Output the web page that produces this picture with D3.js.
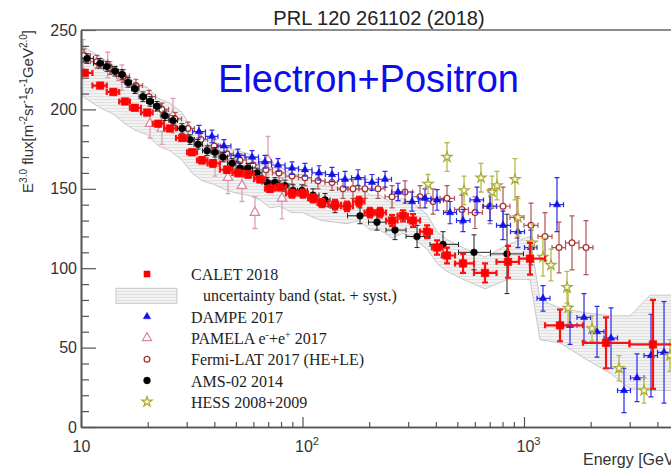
<!DOCTYPE html>
<html><head><meta charset="utf-8">
<script src="https://cdn.jsdelivr.net/npm/d3@7"></script>
<style>
html,body{margin:0;padding:0;background:#fff;overflow:hidden}
svg{display:block}
</style></head><body>
<svg id="chart" width="671" height="469"></svg>
<script>
// ---- CALET 2018 (E^3 x flux) ----
const caletE = [10.4, 12.2, 14.0, 15.8, 17.5, 19.9, 22.3, 25.2, 28.6, 31.7, 35.2, 39.4, 45.6, 51.1, 56.8, 64.3, 71.3, 79.1, 89.7, 100.5, 111.5, 122.5, 140.2, 158.8, 179.9, 201.7, 223.8, 253.6, 284.3, 315.4, 364.9, 404.9, 449.2, 530.6, 666.7, 846.9, 1064.5, 1454, 2346, 3823];
const caletFlux = [223, 215, 211, 205, 201, 198, 191, 188, 182, 173, 168, 166, 162, 160, 159, 156, 150, 151, 147, 147, 144, 141, 140, 139, 142, 135, 135, 130, 133, 130, 123, 113, 108, 103, 97, 104, 106, 64, 53, 52];
const caletErr = [1.5, 1.5, 1.5, 1.5, 1.5, 1.5, 1.5, 1.5, 1.5, 1.5, 2, 2, 2, 2, 2, 2, 2, 2, 2.5, 2.5, 2.5, 2.5, 3, 3, 3, 3, 3, 3.5, 3.5, 4, 4, 4.5, 5, 6, 6, 10, 10, 10, 16, 28];

// ---- CALET uncertainty band (stat. + syst.) ----
const bandE = [10.2, 12.2, 14.0, 15.8, 17.5, 19.9, 22.3, 25.2, 28.6, 31.7, 35.2, 39.4, 45.6, 51.1, 56.8, 64.3, 71.3, 79.1, 89.7, 100.5, 111.5, 122.5, 140.2, 158.8, 179.9, 201.7, 223.8, 253.6, 284.3, 315.4, 364.9, 404.9, 449.2, 530.6, 666.7, 846.9, 1064.5, 1181, 1454, 1886, 2445, 3010, 3706, 5063];
const bandLo = [208, 201, 197, 191, 187, 184, 177, 174, 168, 160, 155, 153, 149, 147, 146, 143, 138, 139, 135, 135, 132, 130, 129, 128, 130, 124, 124, 119, 122, 119, 112, 103, 98, 93, 87, 93, 93, 55, 53, 43, 34, 24, 23, 23];
const bandHi = [240, 233, 228, 222, 217, 214, 207, 204, 198, 188, 182, 180, 176, 174, 172, 169, 163, 164, 159, 159, 155, 152, 151, 150, 153, 146, 146, 141, 144, 141, 134, 123, 118, 113, 107, 115, 120, 80, 75, 72, 70, 70, 83, 83];

// ---- DAMPE 2017 ----
const dampeE = [34.1, 39.0, 44.2, 51.1, 59.2, 67.7, 77.5, 89.7, 102.6, 118.7, 135.9, 155.6, 178.1, 205.9, 235.8, 269.9, 312.2, 357.4, 404.9, 463.4, 530.6, 613.5, 702.3, 804.0, 939.6, 1075.5, 1218, 1409, 1613, 1866, 2136, 2471, 2828, 3237, 3744, 4287];
const dampeFlux = [186, 183, 177, 171, 170, 167, 165, 163, 162, 160, 159, 156, 157, 154, 156, 148, 142, 144, 143, 135, 130, 143, 139, 127, 123, 113, 81, 140, 64, 69, 60, 56, 23, 31, 45, 47];
const dampeErr = [4, 4, 4, 4, 4, 4, 4, 4, 4, 4.5, 4.5, 5, 5, 5, 5, 5.5, 6, 6, 6.5, 7, 7, 8, 9, 9, 10, 11, 8, 17, 12, 15, 16, 19, 14, 15, 26, 32];

// ---- PAMELA e- + e+ 2017 ----
const pamelaE = [10.2, 13.2, 15.3, 20.5, 23.2, 26.0, 40.3, 46.1, 53.3, 61.0, 69.9, 80.8];
const pamelaFlux = [235, 228, 220, 191, 188, 196, 166, 157, 152, 135, 168, 144];
const pamelaErr = [9, 8, 8, 9, 10, 11, 8, 10, 10, 10, 15, 13];

// ---- Fermi-LAT 2017 (HE+LE) ----
const fermiE = [10.3, 11.8, 13.5, 15.5, 17.7, 20.3, 23.2, 26.6, 30.4, 34.8, 39.9, 45.6, 52.2, 59.8, 68.4, 78.3, 89.7, 102.6, 117.5, 135.9, 152.3, 169.0, 191.5, 219.2, 253.6, 290.3, 339.3, 388.3, 449.2, 524.9, 600.9, 702.3, 804.0, 929.9, 1075.5, 1244, 1439, 1647, 1905];
const fermiFlux = [234, 230, 226, 221, 215, 208, 200, 194, 188, 181, 177, 172, 168, 165, 162, 160, 158, 157, 155, 154, 150, 150, 150, 150, 145, 148, 145, 142, 144, 137, 135, 139, 139, 132, 127, 120, 113, 116, 113];
const fermiErr = [4, 4, 4, 4, 4, 4, 4, 4, 4, 4, 4, 4, 4, 4, 5, 5, 5, 5, 5, 5, 6, 6, 6, 6, 7, 7, 7, 8, 8, 9, 10, 11, 12, 13, 14, 15, 16, 17, 17];

// ---- AMS-02 2014 ----
const amsE = [10.64, 12.18, 13.10, 14.24, 15.31, 16.30, 17.53, 19.05, 20.49, 22.03, 23.95, 26.02, 28.58, 31.05, 33.75, 37.06, 40.27, 43.77, 48.06, 52.23, 56.75, 62.32, 69.13, 75.12, 83.36, 90.60, 99.47, 111.5, 126.4, 140.2, 181.8, 216.9, 261.6, 328.9, 430.9, 594.7, 838.0];
const amsFlux = [232, 229, 227, 224, 222, 217, 213, 208, 205, 202, 196, 193, 188, 181, 178, 174, 173, 170, 166, 163, 163, 160, 154, 154, 152, 149, 149, 146, 143, 139, 133, 129, 124, 120, 115, 110, 109];
const amsErr = [3, 3, 3, 3, 3, 3, 3, 3, 3, 3, 3, 3, 3, 3, 3, 3, 3, 3, 3, 3, 3, 3, 3, 3, 3.5, 3.5, 3.5, 4, 4, 4, 5, 5, 6, 7, 8, 11, 25];

// ---- HESS 2008+2009 ----
const hessE = [368.7, 449.2, 536.1, 639.6, 717.2, 755.3, 910.8, 939.6, 1086.8, 1218, 1324, 1564, 1581, 2028, 2685, 3482, 4561];
const hessFlux = [153, 170, 149, 157, 148, 152, 156, 132, 116, 107, 102, 88, 75, 62, 37, 23, 45];
const hessErr = [6, 9, 9, 9, 10, 9, 13, 12, 12, 12, 10, 10, 10, 8, 8, 8, 10];

// ---- axes ----
const yMajor = [0, 50, 100, 150, 200, 250];
const xMajor = [10, 100, 1000];

const svg = d3.select("#chart");
const sans = "'Liberation Sans', Arial, Helvetica, sans-serif";
const serif = "'Liberation Serif', 'Times New Roman', serif";

const x = d3.scaleLog().domain([10, 10000]).range([81, 745.5]);
const y = d3.scaleLinear().domain([0, 250]).range([427, 30]);

const defs = svg.append("defs");
const pat = defs.append("pattern").attr("id", "hatch")
  .attr("patternUnits", "userSpaceOnUse").attr("width", 6).attr("height", 3);
pat.append("rect").attr("width", 6).attr("height", 3).attr("fill", "#f2f2f2");
pat.append("line").attr("x1", 0).attr("x2", 6).attr("y1", 0.5).attr("y2", 0.5)
  .attr("stroke", "#dcdcdc").attr("stroke-width", 0.8);
defs.append("clipPath").attr("id", "plotclip").append("rect")
  .attr("x", 81).attr("y", 30).attr("width", 700).attr("height", 397);

// uncertainty band
const plot = svg.append("g").attr("clip-path", "url(#plotclip)");
const area = d3.area()
  .x((d, i) => x(bandE[i]))
  .y0((d, i) => y(bandLo[i]))
  .y1((d, i) => y(bandHi[i]));
plot.append("path").datum(bandE).attr("d", area)
  .attr("fill", "url(#hatch)").attr("stroke", "#c8c8c8").attr("stroke-width", 1);

// error bars + markers for one data set
function series(E, V, err, o) {
  const g = plot.append("g");
  const n = E.length;
  const cap = o.cap;
  const idx = d3.range(n);
  const edge = i => {
    const lo = i > 0 ? Math.sqrt(E[i - 1] * E[i]) : E[i] / Math.sqrt(E[i + 1] / E[i]);
    const hi = i < n - 1 ? Math.sqrt(E[i] * E[i + 1]) : E[i] * Math.sqrt(E[i] / E[i - 1]);
    return [lo, hi];
  };
  const eb = g.append("g").attr("stroke", o.bar).attr("stroke-width", o.bw).attr("fill", "none");
  eb.selectAll("path").data(idx).join("path").attr("d", i => {
    const cx = x(E[i]), yt = y(V[i] + err[i]), yb = y(V[i] - err[i]);
    let d = `M${cx},${yt}V${yb}M${cx - cap},${yt}H${cx + cap}M${cx - cap},${yb}H${cx + cap}`;
    if (o.hbar) {
      const [l, h] = edge(i);
      const xl = x(l), xh = x(h), cy = y(V[i]);
      d += `M${xl},${cy}H${xh}M${xl},${cy - cap}V${cy + cap}M${xh},${cy - cap}V${cy + cap}`;
    }
    return d;
  });
  g.append("g").selectAll("path").data(idx).join("path")
    .attr("d", d3.symbol().type(o.sym).size(o.size))
    .attr("transform", i => `translate(${x(E[i])},${y(V[i])})`)
    .attr("fill", o.fill).attr("stroke", o.stroke).attr("stroke-width", o.sw);
}

const styles = {
  pamela: {sym: d3.symbolTriangle, size: 40, fill: "#fff", stroke: "#d4879f", sw: 1.2, bar: "#d9a3b6", bw: 1.3, cap: 2.5, hbar: false},
  fermi: {sym: d3.symbolCircle, size: 26, fill: "#fff", stroke: "#a83232", sw: 1.3, bar: "#ad5656", bw: 1.2, cap: 2.5, hbar: true},
  dampe: {sym: d3.symbolTriangle, size: 24, fill: "#1212e6", stroke: "#1212e6", sw: 0.5, bar: "#2a2aee", bw: 1.2, cap: 2.5, hbar: true},
  hess: {sym: d3.symbolStar, size: 32, fill: "#f6f6de", stroke: "#a9a935", sw: 1.2, bar: "#b8b84a", bw: 1.3, cap: 2.5, hbar: false},
  ams: {sym: d3.symbolCircle, size: 36, fill: "#000", stroke: "#000", sw: 0.5, bar: "#222", bw: 1, cap: 2.5, hbar: true},
  calet: {sym: d3.symbolSquare, size: 56, fill: "#ff0000", stroke: "#ff0000", sw: 0.6, bar: "#ff1010", bw: 2.2, cap: 3, hbar: true}
};

series(pamelaE, pamelaFlux, pamelaErr, styles.pamela);
series(fermiE, fermiFlux, fermiErr, styles.fermi);
series(dampeE, dampeFlux, dampeErr, styles.dampe);
series(hessE, hessFlux, hessErr, styles.hess);
series(amsE, amsFlux, amsErr, styles.ams);
series(caletE, caletFlux, caletErr, styles.calet);

// axes (ticks point into the frame, ROOT style)
const axisCol = "#555";
const yAx = svg.append("g").attr("transform", "translate(81,0)")
  .call(d3.axisLeft(y).tickValues(yMajor).tickSizeInner(-15).tickSizeOuter(0).tickPadding(4));
svg.append("g").attr("transform", "translate(81,0)")
  .call(d3.axisLeft(y).tickValues(d3.range(0, 251, 10).filter(v => v % 50)).tickSizeInner(-8).tickSizeOuter(0).tickFormat(""));
const xMinor = [];
[10, 100, 1000].forEach(dec => { for (let k = 2; k <= 9; k++) xMinor.push(dec * k); });
const xAx = svg.append("g").attr("transform", "translate(0,427)")
  .call(d3.axisBottom(x).tickValues(xMajor).tickSizeInner(-10).tickSizeOuter(0).tickPadding(13).tickFormat(""));
svg.append("g").attr("transform", "translate(0,427)")
  .call(d3.axisBottom(x).tickValues(xMinor).tickSizeInner(-5).tickSizeOuter(0).tickFormat(""));

svg.selectAll(".domain").attr("stroke", axisCol).attr("stroke-width", 1.6);
svg.selectAll(".tick line").attr("stroke", axisCol).attr("stroke-width", 1.2);
yAx.selectAll("text").attr("font-family", sans).attr("font-size", 16).attr("fill", "#333");

// x labels 10, 10^2, 10^3
xAx.selectAll(".tick text").each(function (d) {
  const t = d3.select(this).attr("font-family", sans).attr("font-size", 16).attr("fill", "#333")
    .attr("dy", null).attr("y", 25);
  const p = Math.round(Math.log10(d));
  t.append("tspan").text("10");
  if (p > 1) t.append("tspan").attr("font-size", 11).attr("dy", -7).text(p);
});
xAx.selectAll(".tick").filter(d => d > 10).select("text").attr("dx", 4);

// top frame line
svg.append("line").attr("x1", 81).attr("x2", 745).attr("y1", 30).attr("y2", 30)
  .attr("stroke", "#666").attr("stroke-width", 1.6);

// titles
svg.append("text").attr("x", 379).attr("y", 25).attr("text-anchor", "middle")
  .attr("font-family", sans).attr("font-size", 20).attr("fill", "#222")
  .text("PRL 120 261102 (2018)");
svg.append("text").attr("x", 218).attr("y", 92)
  .attr("font-family", sans).attr("font-size", 38).attr("fill", "#0c0cee")
  .text("Electron+Positron");
svg.append("text").attr("x", 583).attr("y", 465)
  .attr("font-family", sans).attr("font-size", 16).attr("fill", "#333")
  .text("Energy [GeV]");

// y axis title with superscripts
const yt = svg.append("text").attr("transform", "translate(33,30) rotate(-90)")
  .attr("text-anchor", "end").attr("font-family", sans).attr("font-size", 15).attr("fill", "#333");
const ytParts = [["E", 0], ["3.0", 1], [" flux[m", 0], ["-2", 1], ["sr", 0], ["-1", 1], ["s", 0], ["-1", 1], ["GeV", 0], ["2.0", 1], ["]", 0]];
ytParts.forEach(([s, sup], i) => {
  const prevSup = i > 0 && ytParts[i - 1][1];
  const ts = yt.append("tspan").text(s);
  if (sup) ts.attr("font-size", 10).attr("dy", prevSup ? 0 : -6);
  else if (prevSup) ts.attr("dy", 6);
});

// legend
const legendRows = [
  {key: "calet", label: [["CALET 2018", 0]]},
  {key: "band", label: [["uncertainty band (stat. + syst.)", 0]]},
  {key: "dampe", label: [["DAMPE 2017", 0]]},
  {key: "pamela", label: [["PAMELA e", 0], ["-", 1], ["+e", 0], ["+", 1], [" 2017", 0]]},
  {key: "fermi", label: [["Fermi-LAT 2017 (HE+LE)", 0]]},
  {key: "ams", label: [["AMS-02 2014", 0]]},
  {key: "hess", label: [["HESS 2008+2009", 0]]}
];
const lg = svg.append("g");
legendRows.forEach((r, i) => {
  const cy = 274 + i * 21.3;
  if (r.key === "band") {
    lg.append("rect").attr("x", 116).attr("y", cy - 7).attr("width", 61).attr("height", 15)
      .attr("fill", "url(#hatch)").attr("stroke", "#c8c8c8").attr("stroke-width", 1);
  } else {
    const o = styles[r.key];
    lg.append("path").attr("d", d3.symbol().type(o.sym).size(Math.min(o.size, 36))())
      .attr("transform", `translate(147,${cy})`)
      .attr("fill", o.fill).attr("stroke", o.stroke).attr("stroke-width", o.sw);
  }
  const t = lg.append("text").attr("x", r.key === "band" ? 203 : 191).attr("y", cy + 6)
    .attr("font-family", serif).attr("font-size", 16).attr("fill", "#222");
  r.label.forEach(([s, sup], j) => {
    const ts = t.append("tspan").text(s);
    if (sup) ts.attr("font-size", 10).attr("dy", -6);
    else if (j > 0 && r.label[j - 1][1]) ts.attr("dy", 6);
  });
});
</script>
</body></html>
